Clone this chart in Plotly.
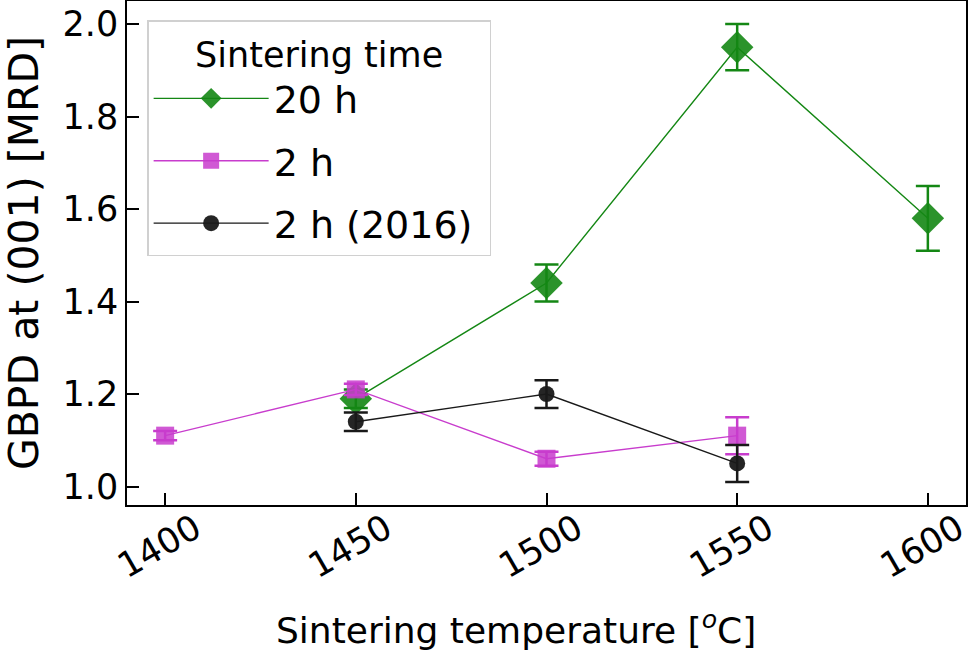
import plotly.graph_objects as go

temps_20h = [1450, 1500, 1550, 1600]
gbpd_20h = [1.19, 1.44, 1.95, 1.58]
err_20h = [0.02, 0.04, 0.05, 0.07]

temps_2h = [1400, 1450, 1500, 1550]
gbpd_2h = [1.11, 1.21, 1.06, 1.11]
err_2h = [0.01, 0.012, 0.015, 0.04]

temps_2016 = [1450, 1500, 1550]
gbpd_2016 = [1.14, 1.20, 1.05]
err_2016 = [0.02, 0.03, 0.04]

x_ticks = [1400, 1450, 1500, 1550, 1600]
y_ticks = [1.0, 1.2, 1.4, 1.6, 1.8, 2.0]

FONT = "DejaVu Sans"

fig = go.Figure()


def add(x, y, e, name, color, symbol, size, opacity):
    fig.add_trace(go.Scatter(
        x=x, y=y, name=name, mode="lines+markers", legendgroup=name,
        line=dict(color=color, width=1.4),
        marker=dict(color=color, symbol=symbol, size=size, opacity=opacity,
                    line=dict(width=0)),
        error_y=dict(type="data", array=e, visible=True, color=color,
                     thickness=2.5, width=12),
    ))


add(temps_20h, gbpd_20h, err_20h, "20 h", "rgb(20,135,20)", "diamond", 25, 0.9)
add(temps_2h, gbpd_2h, err_2h, "2 h", "rgb(200,60,205)", "square", 18, 0.85)
add(temps_2016, gbpd_2016, err_2016, "2 h (2016)\u00a0", "rgb(25,25,25)", "circle", 16, 0.95)

axis_common = dict(
    showline=True, linecolor="black", linewidth=1.5, mirror=True,
    ticks="inside", ticklen=12, tickwidth=1.5, tickcolor="black",
    showgrid=False, zeroline=False, automargin=False,
    tickfont=dict(family=FONT, size=35, color="black"),
)

fig.update_layout(
    width=968, height=651,
    margin=dict(l=127, r=2, t=1, b=146),
    plot_bgcolor="white", paper_bgcolor="white",
    font=dict(family=FONT, color="black"),
    xaxis=dict(
        range=[1390, 1610], tickvals=x_ticks, tickangle=-30,
        ticklabelshift=30, ticklabelstandoff=-12, ticklabeloverflow="allow",
        **axis_common,
    ),
    yaxis=dict(
        range=[0.96, 2.05], tickvals=y_ticks, tickformat=".1f",
        title=dict(text="GBPD at (001) [MRD]",
                   font=dict(family=FONT, size=41), standoff=14),
        **axis_common,
    ),
    legend=dict(
        x=0.024, y=0.962, xanchor="left", yanchor="top",
        bgcolor="rgba(255,255,255,0.8)", bordercolor="#d0d0d0", borderwidth=1.5,
        font=dict(family=FONT, size=38),
        title=dict(text="Sintering time", font=dict(family=FONT, size=35), side="top center"),
        itemwidth=115, tracegroupgap=10,
    ),
    showlegend=True,
    annotations=[dict(
        text="Sintering temperature [<sup><i>o</i></sup>C]",
        xref="paper", yref="paper", x=0.4637, y=-0.244,
        xanchor="center", yanchor="middle", showarrow=False,
        font=dict(family=FONT, size=36, color="black"),
    )],
)

fig.write_html("out.html", config={"displayModeBar": False},
               post_script="document.body.style.margin='0';")
